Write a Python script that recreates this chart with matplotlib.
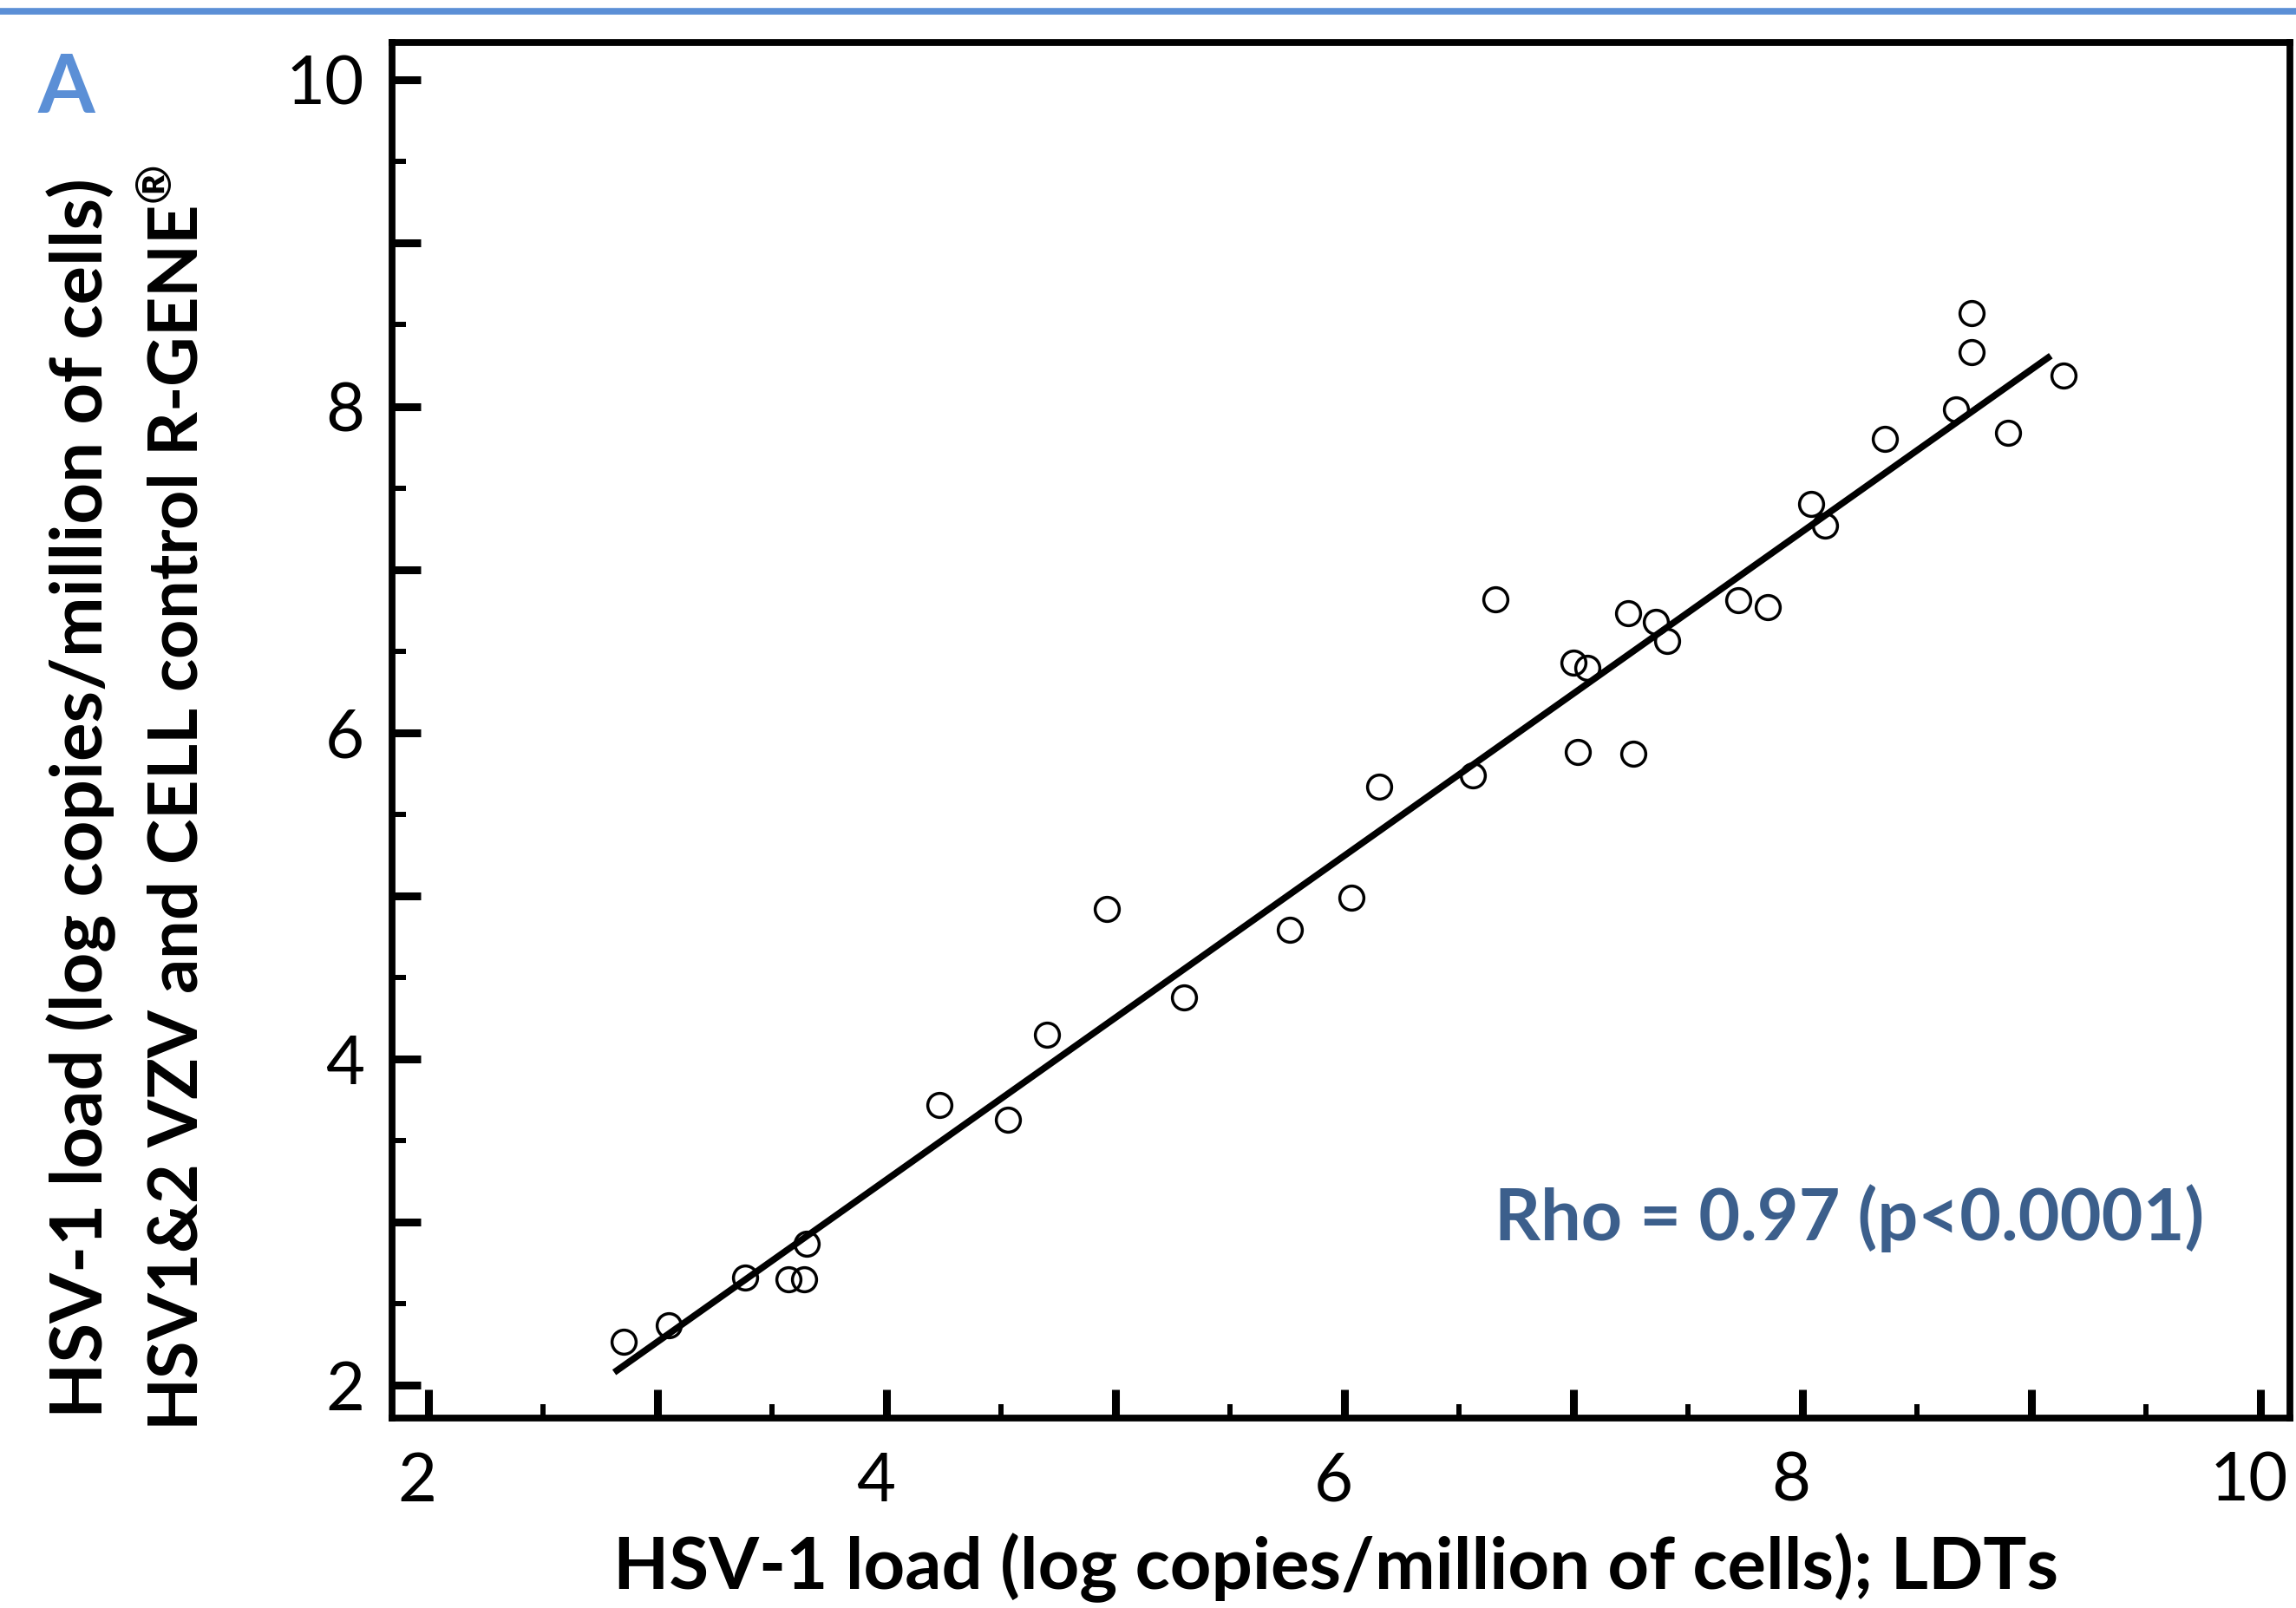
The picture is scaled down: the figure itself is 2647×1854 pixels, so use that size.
import matplotlib.pyplot as plt
from matplotlib.ticker import MultipleLocator, FuncFormatter
from matplotlib.transforms import ScaledTranslation

# HSV-1 load (log copies/million of cells), one entry per sample
ldt_load = [2.85, 3.05, 3.38, 3.57, 3.64, 3.65, 4.23, 4.53, 4.70, 4.96, 5.30,
            5.76, 6.03, 6.15, 6.56, 6.66, 7.00, 7.06, 7.02, 7.26, 7.24, 7.36,
            7.41, 7.72, 7.85, 8.04, 8.10, 8.36, 8.67, 8.74, 8.74, 8.90, 9.14]
rgene_load = [2.27, 2.37, 2.66, 2.65, 2.65, 2.87, 3.72, 3.63, 4.15, 4.92, 4.38,
              4.79, 4.99, 5.67, 5.74, 6.82, 6.43, 6.40, 5.88, 5.87, 6.73, 6.68,
              6.56, 6.81, 6.77, 7.40, 7.27, 7.80, 7.98, 8.33, 8.57, 7.84, 8.19]

# regression line ends as drawn in the figure
fit_x = [2.81, 9.085]
fit_y = [2.08, 8.31]

rho_text = 'Rho = 0.97 (p<0.0001)'
font = 'Lato'

plt.rcParams['font.family'] = [font, 'DejaVu Sans']
plt.rcParams['mathtext.fontset'] = 'custom'
plt.rcParams['mathtext.rm'] = font
plt.rcParams['mathtext.bf'] = font + ':bold'

fig = plt.figure(figsize=(26.47, 18.54), dpi=100)
ax = fig.add_axes([0.1708, 0.1181, 0.8266, 0.8555])

ax.plot(ldt_load, rgene_load, linestyle='none', marker='o', ms=20,
        mfc='none', mec='black', mew=2.5)
ax.plot(fit_x, fit_y, color='black', lw=5.5, solid_capstyle='butt')

ax.set_xlim(1.84, 10.13)
ax.set_ylim(1.80, 10.23)

for s in ax.spines.values():
    s.set_linewidth(5.6)

for axis in (ax.xaxis, ax.yaxis):
    axis.set_major_locator(MultipleLocator(1))
    axis.set_minor_locator(MultipleLocator(0.5))
    axis.set_major_formatter(FuncFormatter(lambda v, p: f'{v:g}' if round(v) % 2 == 0 else ''))

ax.tick_params(which='both', direction='in', top=False, right=False,
               labelsize=56)
ax.tick_params(which='major', length=24, width=6.5)
ax.tick_params(which='minor', length=11.5, width=4.3)
ax.tick_params(axis='y', pad=23)
ax.tick_params(axis='x', pad=28)

# x tick labels sit a little left of their ticks in the original
shift = ScaledTranslation(-0.13, 0, fig.dpi_scale_trans)
for lab in ax.get_xticklabels():
    lab.set_transform(lab.get_transform() + shift)

# axis titles placed as figure text
fig.text(0.5818, 0.003, 'HSV-1 load (log copies/million of cells); LDTs',
         ha='center', va='bottom', fontsize=60, fontweight='bold')
fig.text(0.0446, 0.5038, 'HSV-1 load (log copies/million of cells)',
         rotation=90, rotation_mode='anchor', ha='center', va='baseline',
         fontsize=60, fontweight='bold')
fig.text(0.0861, 0.5038, r'HSV1&2 VZV and CELL control R-GENE$^{\mathbf{®}}$',
         rotation=90, rotation_mode='anchor', ha='center', va='baseline',
         fontsize=57, fontweight='bold')

fig.text(0.8054, 0.2287, rho_text, ha='center', va='baseline',
         fontsize=59.5, fontweight='bold', color='#3C5F8C')

# panel letter and the rule across the top
fig.text(0.0287, 0.9299, 'A', ha='center', va='baseline',
         fontsize=68, fontweight='bold', color='#5B8FD6')
fig.add_artist(plt.Line2D([0, 1], [0.993, 0.993], color='#5B8FD6', lw=5.5))

fig.savefig('out.png', dpi=100)
